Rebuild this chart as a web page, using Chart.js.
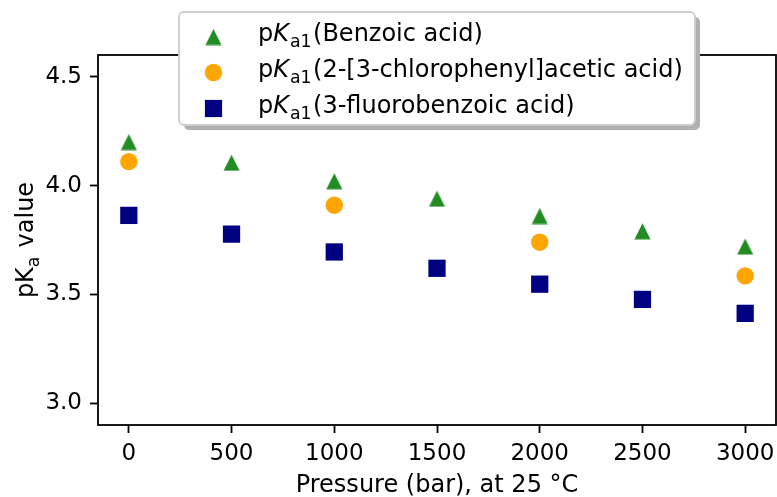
<!DOCTYPE html>
<html>
<head>
<meta charset="utf-8">
<script src="https://cdn.jsdelivr.net/npm/chart.js@4.4.0/dist/chart.umd.min.js"></script>
<style>
  html, body { margin: 0; padding: 0; background: #fff; overflow: hidden; }
  canvas { display: block; }
</style>
</head>
<body>
<canvas id="chart-pka" width="777" height="497"></canvas>
<script>
// data
const pressures = [0, 500, 1000, 1500, 2000, 2500, 3000];
const benzoic = [4.20, 4.105, 4.02, 3.94, 3.86, 3.79, 3.72];
const chloroPressures = [0, 1000, 2000, 3000];
const chlorophenylacetic = [4.11, 3.91, 3.74, 3.585];
const fluorobenzoic = [3.863, 3.777, 3.695, 3.62, 3.547, 3.477, 3.413];
const xTicks = [0, 500, 1000, 1500, 2000, 2500, 3000];
const yTicks = [3.0, 3.5, 4.0, 4.5];
const legendNames = ['Benzoic acid', '2-[3-chlorophenyl]acetic acid', '3-fluorobenzoic acid'];
const colors = ['#228b22', '#ffa500', '#000080'];

const FONT = '"DejaVu Sans"';
const FS = 23;      // tick labels
const TITLE_FS = 24; // axis titles

function toPoints(xs, ys) {
    return xs.map((x, i) => ({x: x, y: ys[i]}));
}

// matplotlib-like '^' marker (centred on its bounding box)
function makeTriangle(color) {
    const c = document.createElement('canvas');
    c.width = 17; c.height = 17;
    const g = c.getContext('2d');
    g.fillStyle = color;
    g.beginPath();
    g.moveTo(8.5, 0.5);
    g.lineTo(16.5, 16.5);
    g.lineTo(0.5, 16.5);
    g.closePath();
    g.fill();
    return c;
}
const triangle = makeTriangle(colors[0]);

// "pK_a..." label with subscript
function drawPK(ctx, x, y, size, italicK, sub, rest, measureOnly) {
    let w = 0;
    const parts = [
        {t: 'p', f: size + 'px ' + FONT, dy: 0, gap: 0},
        {t: 'K', f: (italicK ? 'oblique ' : '') + size + 'px ' + FONT, dy: 0, gap: italicK ? 1 : 0},
        {t: sub, f: (size * 0.72) + 'px ' + FONT, dy: size * 0.25, gap: 1.5},
        {t: rest, f: size + 'px ' + FONT, dy: 0, gap: 0}
    ];
    parts.forEach(p => {
        ctx.font = p.f;
        if (!measureOnly) ctx.fillText(p.t, x + w, y + p.dy);
        w += ctx.measureText(p.t).width + p.gap;
    });
    return w;
}

const extrasPlugin = {
    id: 'extras',
    afterDatasetsDraw(chart) {
        const {ctx, chartArea: a} = chart;
        ctx.save();
        ctx.strokeStyle = '#000';
        ctx.lineWidth = 1.8;
        ctx.strokeRect(a.left, a.top, a.right - a.left, a.bottom - a.top);
        ctx.restore();
    },
    afterDraw(chart) {
        const ctx = chart.ctx;
        ctx.save();
        ctx.fillStyle = '#000';
        ctx.textBaseline = 'alphabetic';

        // y axis title
        const w = drawPK(ctx, 0, 0, TITLE_FS, false, 'a', ' value', true);
        ctx.translate(33, (chart.chartArea.top + chart.chartArea.bottom) / 2);
        ctx.rotate(-Math.PI / 2);
        drawPK(ctx, -w / 2, 0, TITLE_FS, false, 'a', ' value', false);
        ctx.setTransform(1, 0, 0, 1, 0, 0);

        // legend box with shadow
        const bx = 179, by = 12, bw = 516, bh = 113;
        ctx.fillStyle = '#b0b0b0';
        ctx.beginPath();
        ctx.roundRect(bx + 5, by + 5, bw, bh, 5);
        ctx.fill();
        ctx.fillStyle = '#fff';
        ctx.strokeStyle = '#cccccc';
        ctx.lineWidth = 1.8;
        ctx.beginPath();
        ctx.roundRect(bx, by, bw, bh, 5);
        ctx.fill();
        ctx.stroke();

        const rows = [37, 72.5, 108.5];
        const mx = 213.5;
        ctx.drawImage(triangle, mx - 8.5, rows[0] - 8.5);
        ctx.fillStyle = colors[1];
        ctx.beginPath();
        ctx.arc(mx, rows[1], 8.7, 0, Math.PI * 2);
        ctx.fill();
        ctx.fillStyle = colors[2];
        ctx.fillRect(mx - 8.6, rows[2] - 8.6, 17.2, 17.2);

        ctx.fillStyle = '#000';
        legendNames.forEach((name, i) => {
            drawPK(ctx, 258, rows[i] + 4, 24, true, 'a1', '(' + name + ')', false);
        });
        ctx.restore();
    }
};

const ctx = document.getElementById('chart-pka').getContext('2d');
const chartPka = new Chart(ctx, {
    type: 'scatter',
    data: {
        datasets: [{
            label: 'Benzoic acid',
            data: toPoints(pressures, benzoic),
            pointStyle: triangle,
            backgroundColor: colors[0],
            borderColor: colors[0],
            pointRadius: 8.5
        }, {
            label: '2-[3-chlorophenyl]acetic acid',
            data: toPoints(chloroPressures, chlorophenylacetic),
            pointStyle: 'circle',
            backgroundColor: colors[1],
            borderColor: colors[1],
            borderWidth: 0,
            pointRadius: 8.7
        }, {
            label: '3-fluorobenzoic acid',
            data: toPoints(pressures, fluorobenzoic),
            pointStyle: 'rect',
            backgroundColor: colors[2],
            borderColor: colors[2],
            borderWidth: 0,
            pointRadius: 12.2
        }]
    },
    options: {
        responsive: false,
        animation: false,
        layout: {
            autoPadding: false,
            padding: {top: 55, right: 1, left: 0, bottom: 0}
        },
        plugins: {
            legend: {display: false},
            tooltip: {enabled: false}
        },
        scales: {
            x: {
                type: 'linear',
                min: -150,
                max: 3150,
                afterFit: s => {
                    s.height = 72;
                    s.paddingLeft = 0;
                    s.paddingRight = 0;
                },
                afterBuildTicks: s => { s.ticks = xTicks.map(v => ({value: v})); },
                border: {display: false},
                grid: {
                    drawOnChartArea: false,
                    tickLength: 8,
                    tickWidth: 1.8,
                    tickColor: '#000'
                },
                ticks: {
                    color: '#000',
                    padding: 7,
                    maxRotation: 0,
                    font: {family: 'DejaVu Sans', size: FS},
                    callback: v => String(v)
                },
                title: {
                    display: true,
                    text: 'Pressure (bar), at 25 °C',
                    color: '#000',
                    padding: {top: 0, bottom: 0},
                    font: {family: 'DejaVu Sans', size: TITLE_FS, lineHeight: 0.95}
                }
            },
            y: {
                min: 2.9,
                max: 4.6,
                afterFit: s => {
                    s.width = 98;
                    s.paddingTop = 0;
                    s.paddingBottom = 0;
                },
                afterBuildTicks: s => { s.ticks = yTicks.map(v => ({value: v})); },
                border: {display: false},
                grid: {
                    drawOnChartArea: false,
                    tickLength: 8,
                    tickWidth: 1.8,
                    tickColor: '#000'
                },
                ticks: {
                    color: '#000',
                    padding: 8,
                    font: {family: 'DejaVu Sans', size: FS},
                    callback: v => v.toFixed(1)
                }
            }
        }
    },
    plugins: [extrasPlugin]
});
</script>
</body>
</html>
